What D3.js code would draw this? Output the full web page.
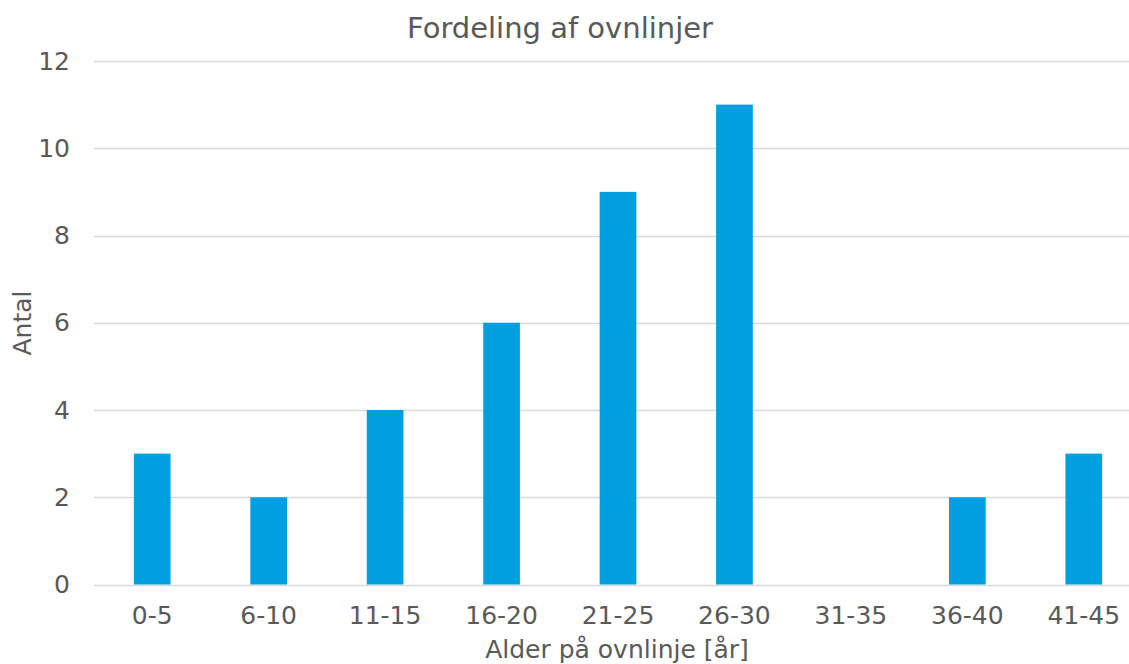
<!DOCTYPE html>
<html>
<head>
<meta charset="utf-8">
<script src="https://cdn.jsdelivr.net/npm/d3@7"></script>
<style>
  html, body { margin: 0; padding: 0; background: #fff; overflow: hidden; }
  text { font-family: "DejaVu Sans", Verdana, sans-serif; fill: #595959; }
</style>
</head>
<body>
<svg id="chart" width="1129" height="664"></svg>
<script>
// Age bands of the kiln lines and how many lines fall in each band
const categories = ["0-5", "6-10", "11-15", "16-20", "21-25", "26-30", "31-35", "36-40", "41-45"];
const counts = [3, 2, 4, 6, 9, 11, 0, 2, 3];
const yTicks = [0, 2, 4, 6, 8, 10, 12];

const chartTitle = "Fordeling af ovnlinjer";
const xTitle = "Alder på ovnlinje [år]";
const yTitle = "Antal";

const svg = d3.select("#chart");
const plotLeft = 94, plotRight = 1142, plotTop = 61, plotBottom = 584.5;

const x = d3.scaleBand().domain(categories).range([plotLeft, plotRight]).paddingInner(0.685).paddingOuter(0.3425);
const y = d3.scaleLinear().domain([0, 12]).range([plotBottom, plotTop]);

// horizontal gridlines
svg.append("g")
  .selectAll("line")
  .data(yTicks)
  .join("line")
  .attr("x1", plotLeft).attr("x2", plotRight)
  .attr("y1", d => Math.round(y(d)) + 0.5).attr("y2", d => Math.round(y(d)) + 0.5)
  .attr("stroke", "#d9d9d9").attr("stroke-width", 1.3);

// bars
svg.append("g")
  .selectAll("rect")
  .data(counts)
  .join("rect")
  .attr("x", (d, i) => x(categories[i]))
  .attr("width", x.bandwidth())
  .attr("y", d => y(d))
  .attr("height", d => y(0) - y(d))
  .attr("fill", "#009fe0");

// y axis labels
const yAxis = d3.axisLeft(y).tickValues(yTicks).tickSize(0).tickPadding(0);
svg.append("g")
  .attr("transform", `translate(${plotLeft - 24},0)`)
  .call(yAxis)
  .call(g => g.select(".domain").remove())
  .selectAll("text")
  .attr("font-size", 25).attr("fill", "#595959")
  .attr("font-family", "DejaVu Sans, Verdana, sans-serif");

// x axis labels
const xAxis = d3.axisBottom(x).tickSize(0).tickPadding(0);
svg.append("g")
  .attr("transform", `translate(0,${plotBottom + 22})`)
  .call(xAxis)
  .call(g => g.select(".domain").remove())
  .selectAll("text")
  .attr("font-size", 25).attr("fill", "#595959")
  .attr("font-family", "DejaVu Sans, Verdana, sans-serif");

// titles
svg.append("text")
  .attr("x", 560).attr("y", 38)
  .attr("text-anchor", "middle")
  .attr("font-size", 29)
  .text(chartTitle);

svg.append("text")
  .attr("x", 617).attr("y", 657.5)
  .attr("text-anchor", "middle")
  .attr("font-size", 25)
  .text(xTitle);

svg.append("text")
  .attr("transform", "translate(31,323) rotate(-90)")
  .attr("text-anchor", "middle")
  .attr("font-size", 25)
  .text(yTitle);
</script>
</body>
</html>
